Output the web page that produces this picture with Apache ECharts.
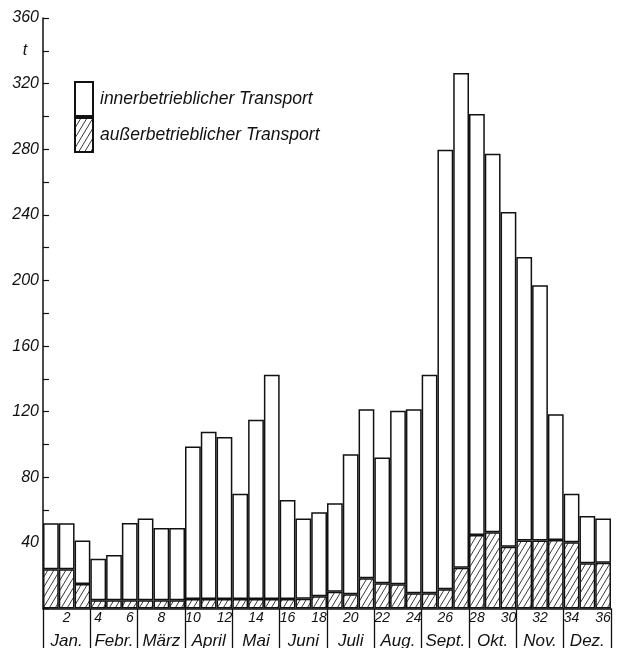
<!DOCTYPE html>
<html>
<head>
<meta charset="utf-8">
<script src="https://cdn.jsdelivr.net/npm/echarts@6/dist/echarts.min.js"></script>
<style>
html,body{margin:0;padding:0;background:#fff;}
#chart{width:618px;height:648px;}
</style>
</head>
<body>
<div id="chart"></div>
<script>
// Ten-day periods (Dekaden) 1..36
const periods = Array.from({length: 36}, (_, i) => String(i + 1));
const months = ['Jan.', 'Febr.', 'März', 'April', 'Mai', 'Juni', 'Juli', 'Aug.', 'Sept.', 'Okt.', 'Nov.', 'Dez.'];
// Total height of each bar (t)
const totalValues = [52.0, 52.0, 41.4, 30.4, 32.6, 52.2, 54.8, 49.1, 49.1, 98.7, 107.7, 104.5,
  69.9, 115.0, 142.5, 66.2, 54.8, 58.7, 64.2, 94.1, 121.5, 92.0, 120.5, 121.5,
  142.5, 279.7, 326.5, 301.5, 277.3, 241.7, 214.3, 197.0, 118.5, 69.9, 56.4, 54.8];
// außerbetrieblicher Transport (hatched part, t)
const externalValues = [24.0, 24.0, 15.0, 5.0, 5.0, 5.0, 5.0, 5.0, 5.0, 5.8, 5.8, 5.8,
  5.8, 5.8, 5.8, 5.8, 6.0, 7.4, 10.2, 8.7, 18.4, 15.4, 14.8, 9.3,
  9.3, 11.7, 24.9, 44.8, 46.5, 37.7, 41.4, 41.4, 41.8, 40.4, 27.6, 27.9];
// innerbetrieblicher Transport = total - external
const internalValues = totalValues.map((v, i) => +(v - externalValues[i]).toFixed(1));
const yLabelValues = [40, 80, 120, 160, 200, 240, 280, 320, 360];
const unitLabel = 't';

const nameInner = 'innerbetrieblicher Transport';
const nameOuter = 'außerbetrieblicher Transport';

// hatch pattern
const hatch = document.createElement('canvas');
hatch.width = 6; hatch.height = 10;
const hc = hatch.getContext('2d');
hc.fillStyle = '#fff';
hc.fillRect(0, 0, 6, 10);
hc.strokeStyle = '#222';
hc.lineWidth = 0.9;
hc.beginPath();
for (let k = -1; k <= 1; k++) {
  hc.moveTo(k * 6, 10);
  hc.lineTo(k * 6 + 6, 0);
}
hc.stroke();

const FONT = 'Liberation Sans';
const chart = echarts.init(document.getElementById('chart'), null, {renderer: 'canvas'});
chart.setOption({
  animation: false,
  backgroundColor: '#fff',
  grid: {left: 43, right: 7, top: 18, bottom: 39.5, containLabel: false, outerBoundsMode: 'none'},
  legend: {
    orient: 'vertical',
    left: 74,
    top: 81,
    padding: 0,
    itemWidth: 18,
    itemHeight: 34,
    itemGap: 0,
    icon: 'rect',
    data: [nameInner, nameOuter],
    textStyle: {fontFamily: FONT, fontStyle: 'italic', fontSize: 17.5, color: '#111', padding: [0, 0, 0, 2]}
  },
  xAxis: [
    {
      type: 'category',
      data: periods,
      position: 'bottom',
      axisLine: {show: true, lineStyle: {color: '#111', width: 1.5}},
      axisTick: {show: false},
      axisLabel: {
        interval: (i) => i % 2 === 1,
        margin: 3,
        fontFamily: FONT, fontStyle: 'italic', fontSize: 14, color: '#111'
      },
      splitLine: {show: false}
    },
    {
      type: 'category',
      data: months,
      position: 'bottom',
      axisLine: {show: false},
      axisTick: {show: true, interval: 0, length: 44, lineStyle: {color: '#111', width: 1.3}},
      axisLabel: {
        interval: 0,
        margin: 24,
        fontFamily: FONT, fontStyle: 'italic', fontSize: 17, color: '#111'
      },
      splitLine: {show: false}
    }
  ],
  yAxis: {
    type: 'value',
    min: 0,
    max: 360,
    interval: 20,
    axisLine: {show: true, lineStyle: {color: '#111', width: 1.5}},
    axisTick: {show: true, inside: true, length: 6, lineStyle: {color: '#111', width: 1.2}},
    splitLine: {show: false},
    axisLabel: {
      margin: 4,
      fontFamily: FONT, fontStyle: 'italic', fontSize: 16, color: '#111',
      formatter: (v) => {
        if (v === 340) return '{u|' + unitLabel + '}';
        return yLabelValues.indexOf(v) >= 0 ? String(v) : '';
      },
      rich: {u: {width: 28, align: 'center', fontFamily: FONT, fontStyle: 'italic', fontSize: 16, color: '#111'}}
    }
  },
  series: [
    {
      name: nameOuter,
      type: 'bar',
      stack: 'total',
      xAxisIndex: 0,
      data: externalValues,
      barCategoryGap: '0%',
      itemStyle: {color: {image: hatch, repeat: 'repeat'}, borderColor: '#111', borderWidth: 1.5}
    },
    {
      name: nameInner,
      type: 'bar',
      stack: 'total',
      xAxisIndex: 0,
      data: internalValues,
      barCategoryGap: '0%',
      itemStyle: {color: '#fff', borderColor: '#111', borderWidth: 1.5}
    }
  ]
});
</script>
</body>
</html>
